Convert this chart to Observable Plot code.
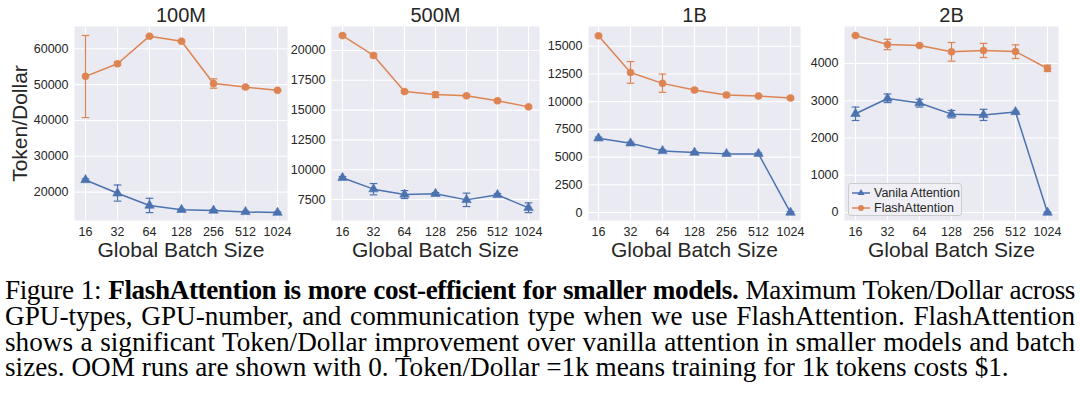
<!DOCTYPE html>
<html><head><meta charset="utf-8">
<script src="https://cdn.jsdelivr.net/npm/d3@7"></script>
<script src="https://cdn.jsdelivr.net/npm/@observablehq/plot@0.6"></script>
<style>
body{margin:0;background:#fff;}
#wrap{position:relative;width:1080px;height:394px;overflow:hidden;font-family:"Liberation Sans",Arial,sans-serif;color:#262626;}
.panel{position:absolute;top:0;}
.panel svg{overflow:visible;}
#legend{position:absolute;left:848px;top:183px;width:114px;height:33px;box-sizing:border-box;background:rgba(240,240,246,0.85);border:1px solid #cccccc;border-radius:3px;font-size:12.5px;color:#262626;padding-top:1px;}
#legend .row{display:flex;align-items:center;height:15px;}
#legend svg{margin-left:2px;margin-right:3px;}
#caption{position:absolute;left:5px;top:278px;width:1070px;font-family:"Liberation Serif","Times New Roman",serif;font-size:27.2px;line-height:25.8px;color:#000;}
#caption .ln{display:block;text-align:justify;text-align-last:justify;white-space:nowrap;height:25.8px;}
#caption .ln.last{text-align-last:left;}
#caption .in{display:inline;}
</style></head><body>
<div id="wrap"></div>
<script>
// ---- data ----
const batchSizes = ["16","32","64","128","256","512","1024"];
const models = ["100M","500M","1B","2B"];
const seriesNames = ["Vanila Attention","FlashAttention"];
const seriesColors = ["#4C72B0","#DD8452"];

// 100M
const flash100M   = [52300, 55800, 63500, 62100, 50300, 49300, 48400];
const flashLo100M = [40800, 55400, 63300, 61800, 49000, 48900, 48200];
const flashHi100M = [63700, 56300, 63700, 62400, 51600, 49700, 48600];
const van100M     = [23400, 19700, 16300, 15100, 14900, 14500, 14300];
const vanLo100M   = [23100, 17500, 14300, 14900, 14700, 14300, 14100];
const vanHi100M   = [23700, 22000, 18300, 15300, 15100, 14700, 14500];
// 500M
const flash500M   = [21250, 19580, 16550, 16300, 16200, 15780, 15270];
const flashLo500M = [21150, 19450, 16450, 16050, 16100, 15680, 15170];
const flashHi500M = [21350, 19700, 16650, 16500, 16300, 15880, 15370];
const van500M     = [9320, 8370, 7920, 7980, 7470, 7890, 6800];
const vanLo500M   = [9220, 7890, 7580, 7880, 6910, 7790, 6400];
const vanHi500M   = [9420, 8840, 8250, 8080, 8030, 7990, 7220];
// 1B
const flash1B     = [15940, 12630, 11650, 11050, 10600, 10510, 10330];
const flashLo1B   = [15840, 11660, 10840, 10900, 10450, 10430, 10230];
const flashHi1B   = [16040, 13620, 12490, 11200, 10750, 10590, 10430];
const van1B       = [6700, 6250, 5560, 5410, 5290, 5290, 0];
const vanLo1B     = [6600, 6150, 5460, 5330, 5210, 5210, -80];
const vanHi1B     = [6800, 6350, 5660, 5490, 5370, 5370, 80];
// 2B
const flash2B     = [4752, 4510, 4483, 4313, 4350, 4322, 3866];
const flashLo2B   = [4730, 4370, 4460, 4063, 4160, 4134, 3785];
const flashHi2B   = [4775, 4650, 4505, 4564, 4540, 4500, 3955];
const van2B       = [2650, 3060, 2940, 2640, 2620, 2700, 0];
const vanLo2B     = [2470, 2950, 2830, 2540, 2470, 2680, -10];
const vanHi2B     = [2830, 3180, 3040, 2740, 2770, 2720, 10];

const yTicks100M = [20000, 30000, 40000, 50000, 60000];
const yTicks500M = [7500, 10000, 12500, 15000, 17500, 20000];
const yTicks1B   = [0, 2500, 5000, 7500, 10000, 12500, 15000];
const yTicks2B   = [0, 1000, 2000, 3000, 4000];

const yDomain100M = [12100, 66200];
const yDomain500M = [5740, 22010];
const yDomain1B   = [-720, 16780];
const yDomain2B   = [-215, 4993];

const captionLines = [
  'Figure 1: <b>FlashAttention is more cost-efficient for smaller models.</b> Maximum Token/Dollar across',
  'GPU-types, GPU-number, and communication type when we use FlashAttention. FlashAttention',
  'shows a significant Token/Dollar improvement over vanilla attention in smaller models and batch',
  'sizes. OOM runs are shown with 0. Token/Dollar =1k means training for 1k tokens costs $1.'
];

// ---- build ----
const panelData = [
  {name:"100M", v:[van100M,vanLo100M,vanHi100M], f:[flash100M,flashLo100M,flashHi100M], ticks:yTicks100M, domain:yDomain100M},
  {name:"500M", v:[van500M,vanLo500M,vanHi500M], f:[flash500M,flashLo500M,flashHi500M], ticks:yTicks500M, domain:yDomain500M},
  {name:"1B",   v:[van1B,vanLo1B,vanHi1B],       f:[flash1B,flashLo1B,flashHi1B],       ticks:yTicks1B,   domain:yDomain1B},
  {name:"2B",   v:[van2B,vanLo2B,vanHi2B],       f:[flash2B,flashLo2B,flashHi2B],       ticks:yTicks2B,   domain:yDomain2B}
];
const layout = [
  {left:0,   width:290, ml:74},
  {left:290, width:252, ml:41},
  {left:542, width:261, ml:46},
  {left:803, width:258, ml:41}
];
const capSymbol = {draw(ctx){ ctx.moveTo(-3.8,0); ctx.lineTo(3.8,0); }};
const wrap = document.getElementById("wrap");

panelData.forEach((p, i) => {
  const rows = [];
  [[seriesNames[0], p.v], [seriesNames[1], p.f]].forEach(([s, arr]) => {
    batchSizes.forEach((b, j) => rows.push({series:s, bs:b, v:arr[0][j], lo:arr[1][j], hi:arr[2][j]}));
  });
  const L = layout[i];
  const marks = [
    Plot.frame({fill:"#EAEAF2", stroke:"none"}),
    Plot.gridY(p.ticks, {stroke:"white", strokeOpacity:1, strokeWidth:1.1}),
    Plot.gridX({stroke:"white", strokeOpacity:1, strokeWidth:1.1}),
    Plot.axisX({tickSize:0, tickPadding:7, fontSize:12.5, label:null}),
    Plot.axisY(p.ticks, {tickSize:0, tickPadding:6, fontSize:12.5, label:null, tickFormat:d3.format("d")}),
    Plot.ruleX(rows, {x:"bs", y1:"lo", y2:"hi", stroke:"series", strokeWidth:1.2}),
    Plot.dot(rows, {x:"bs", y:"lo", symbol:capSymbol, stroke:"series", strokeWidth:1.2, fill:"none", r:3}),
    Plot.dot(rows, {x:"bs", y:"hi", symbol:capSymbol, stroke:"series", strokeWidth:1.2, fill:"none", r:3}),
    Plot.line(rows, {x:"bs", y:"v", z:"series", stroke:"series", strokeWidth:1.5}),
    Plot.dot(rows, {x:"bs", y:"v", symbol:"series", fill:"series", stroke:"series", strokeWidth:0.6, r:3.5}),
    Plot.text([p.name], {frameAnchor:"top", lineAnchor:"middle", textAnchor:"middle", dy:-11, fontSize:20}),
    Plot.text(["Global Batch Size"], {frameAnchor:"bottom", lineAnchor:"middle", textAnchor:"middle", dy:30, fontSize:21})
  ];
  if (i === 0) marks.push(Plot.text(["Token/Dollar"], {frameAnchor:"left", textAnchor:"middle", lineAnchor:"middle", rotate:-90, dx:-54, fontSize:21}));
  const chart = Plot.plot({
    width:L.width, height:262,
    marginLeft:L.ml, marginRight:3, marginTop:26, marginBottom:42,
    style:{fontFamily:"'Liberation Sans', Arial, sans-serif", color:"#262626", background:"transparent", overflow:"visible"},
    x:{type:"point", domain:batchSizes, padding:0.31, label:null, axis:null},
    y:{domain:p.domain, label:null, axis:null},
    color:{domain:seriesNames, range:seriesColors},
    symbol:{domain:seriesNames, range:["triangle","circle"]},
    marks
  });
  const div = document.createElement("div");
  div.className = "panel";
  div.style.left = L.left + "px";
  div.appendChild(chart);
  wrap.appendChild(div);
});

// legend
const legend = document.createElement("div");
legend.id = "legend";
seriesNames.forEach((s, k) => {
  const row = document.createElement("div");
  row.className = "row";
  const sym = d3.symbol(k === 0 ? d3.symbolTriangle : d3.symbolCircle, k === 0 ? 22 : 26)();
  row.innerHTML = `<svg width="20" height="12"><line x1="1" x2="19" y1="6" y2="6" stroke="${seriesColors[k]}" stroke-width="1.5"/><path transform="translate(10,6)" d="${sym}" fill="${seriesColors[k]}"/></svg><span>${s}</span>`;
  legend.appendChild(row);
});
wrap.appendChild(legend);

// caption
const cap = document.createElement("div");
cap.id = "caption";
cap.innerHTML = captionLines.map((t, k) => `<span class="ln${k === captionLines.length - 1 ? " last" : ""}">${t}</span>`).join("");
wrap.appendChild(cap);
// tighten any line whose natural width exceeds the caption width
cap.querySelectorAll(".ln").forEach(el => {
  const probe = document.createElement("span");
  probe.style.cssText = "position:absolute;visibility:hidden;white-space:nowrap;font:inherit;";
  probe.innerHTML = el.innerHTML;
  cap.appendChild(probe);
  const natural = probe.getBoundingClientRect().width;
  cap.removeChild(probe);
  const avail = 1070;
  if (natural > avail - 4) {
    const chars = el.textContent.length;
    el.style.letterSpacing = (-(natural - avail + 8) / chars).toFixed(3) + "px";
  }
});
</script>
</body></html>
